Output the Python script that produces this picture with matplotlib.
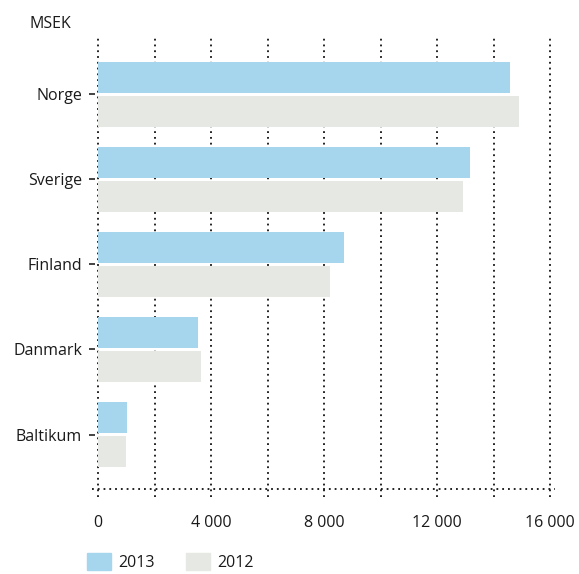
import matplotlib as mpl
import matplotlib.pyplot as plt
import matplotlib.transforms as mtransforms
from matplotlib.patches import Patch

mpl.rcParams["font.family"] = ["Open Sans", "DejaVu Sans"]

# data (MSEK)
countries = ["Norge", "Sverige", "Finland", "Danmark", "Baltikum"]
values_2013 = [14600, 13170, 8710, 3540, 1030]
values_2012 = [14900, 12920, 8210, 3650, 990]
xticks = [0, 4000, 8000, 12000, 16000]
xtick_labels = ["0", "4 000", "8 000", "12 000", "16 000"]
grid_x = [0, 2000, 4000, 6000, 8000, 10000, 12000, 14000, 16000]

c2013 = "#a6d5ee"
c2012 = "#e6e8e3"

W, H = 579, 574
fig = plt.figure(figsize=(W / 100, H / 100), dpi=100)
ax_l, ax_r, ax_t, ax_b = 98, 550, 37, 489
ax = fig.add_axes([ax_l / W, 1 - ax_b / H, (ax_r - ax_l) / W, (ax_b - ax_t) / H])
aw, ah = ax_r - ax_l, ax_b - ax_t

ypos = list(range(len(countries)))
ax.barh([y - 0.2 for y in ypos], values_2013, height=0.365, color=c2013, zorder=1)
ax.barh([y + 0.2 for y in ypos], values_2012, height=0.365, color=c2012, zorder=1)

ax.set_xlim(0, 16000)
ax.set_ylim(4.641, -0.676)

for s in ax.spines.values():
    s.set_visible(False)

# dotted gridlines, running a bit below the base line
trans = mtransforms.blended_transform_factory(ax.transData, ax.transAxes)
ax.vlines(grid_x, -8 / ah, 1, transform=trans, colors="#111111",
          linestyles=(0, (1, 2.2)), linewidth=1.3, clip_on=False, zorder=0)
ax.plot([-6 / aw, 1 + 5 / aw], [0, 0], transform=ax.transAxes, color="#111111",
        linestyle=(0, (1, 2.2)), linewidth=1.3, clip_on=False, zorder=0)

# short dashes beside category labels
trans_y = mtransforms.blended_transform_factory(ax.transAxes, ax.transData)
ax.hlines(ypos, -9 / aw, -3 / aw, transform=trans_y, colors="#222222",
          linewidth=1.2, clip_on=False)

ax.set_yticks(ypos)
ax.set_yticklabels(countries)
ax.set_xticks(xticks)
ax.set_xticklabels(xtick_labels)
ax.tick_params(axis="y", length=0, pad=11.5, labelsize=11.5, labelcolor="#1a1a1a")
ax.tick_params(axis="x", length=0, pad=19, labelsize=11.5, labelcolor="#1a1a1a")

fig.text(30 / W, 1 - 24 / H, "MSEK", fontsize=11.5, color="#1a1a1a", va="center")

handles = [Patch(color=c2013, label="2013"), Patch(color=c2012, label="2012")]
fig.legend(handles=handles, loc="upper left", bbox_to_anchor=(87 / W, 1 - 553 / H),
           ncol=2, frameon=False, borderpad=0, borderaxespad=0, fontsize=11.5,
           handlelength=1.5, handleheight=1.3, handletextpad=0.45, columnspacing=1.95,
           labelcolor="#1a1a1a")

plt.savefig("out.png", dpi=100)
